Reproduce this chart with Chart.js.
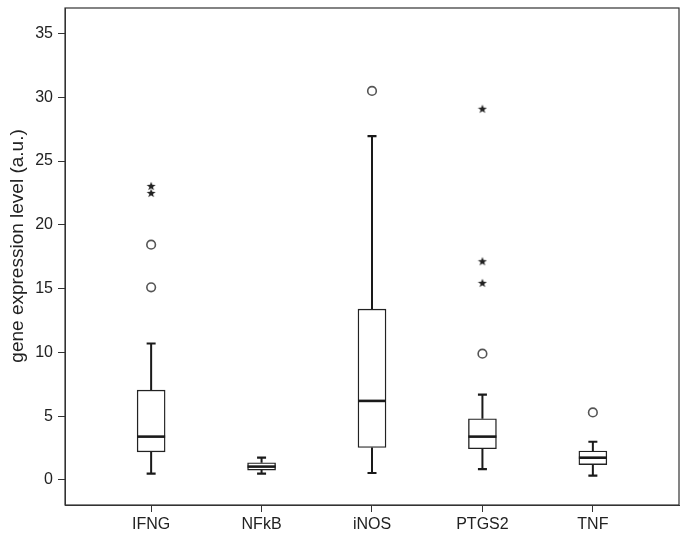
<!DOCTYPE html>
<html>
<head>
<meta charset="utf-8">
<script src="https://cdn.jsdelivr.net/npm/chart.js@4.4.0/dist/chart.umd.min.js"></script>
<style>
  html, body { margin: 0; padding: 0; background: #fff; }
  canvas { display: block; }
</style>
</head>
<body>
<canvas id="box-chart" width="687" height="534"></canvas>
<script>
// Box plot values
const genes = ['IFNG', 'NFkB', 'iNOS', 'PTGS2', 'TNF'];
const whiskerLow = [0.5, 0.5, 0.55, 0.86, 0.35];
const q1 = [2.2, 0.78, 2.55, 2.45, 1.2];
const medians = [3.4, 1.05, 6.2, 3.4, 1.75];
const q3 = [7.05, 1.35, 13.4, 4.8, 2.27];
const whiskerHigh = [10.7, 1.75, 26.95, 6.7, 3.0];
// outliers (circles) and extreme values (stars)
const circleOutliers = [[15.1, 18.45], [], [30.5], [9.9], [5.3]];
const starOutliers = [[22.5, 23.05], [], [], [15.45, 17.15, 29.1], []];
const yTicks = [0, 5, 10, 15, 20, 25, 30, 35];

const positions = genes.map((g, i) => i + 1);
const FONT = "'Liberation Sans', Arial, sans-serif";

// small filled star used for the extreme values
function makeStar(size) {
  const c = document.createElement('canvas');
  c.width = size;
  c.height = size;
  const ctx = c.getContext('2d');
  const cx = size / 2, cy = size / 2 + 0.4;
  const outer = size / 2 - 0.3, inner = outer * 0.42;
  ctx.beginPath();
  for (let i = 0; i < 10; i++) {
    const r = i % 2 === 0 ? outer : inner;
    const a = -Math.PI / 2 + i * Math.PI / 5;
    ctx.lineTo(cx + r * Math.cos(a), cy + r * Math.sin(a));
  }
  ctx.closePath();
  ctx.fillStyle = '#222';
  ctx.fill();
  return c;
}

const circlePoints = [];
const starPoints = [];
genes.forEach((g, i) => {
  circleOutliers[i].forEach(v => circlePoints.push({ x: positions[i], y: v }));
  starOutliers[i].forEach(v => starPoints.push({ x: positions[i], y: v }));
});

// whiskers, caps and median lines
const boxLines = {
  id: 'boxLines',
  afterDatasetsDraw(chart) {
    const { ctx, scales: { x, y } } = chart;
    ctx.save();
    ctx.strokeStyle = '#1a1a1a';
    genes.forEach((g, i) => {
      const cx = x.getPixelForValue(positions[i]);
      const half = 14;
      const cap = 4.5;
      ctx.lineWidth = 2;
      ctx.beginPath();
      ctx.moveTo(cx, y.getPixelForValue(q3[i]));
      ctx.lineTo(cx, y.getPixelForValue(whiskerHigh[i]));
      ctx.moveTo(cx, y.getPixelForValue(q1[i]));
      ctx.lineTo(cx, y.getPixelForValue(whiskerLow[i]));
      ctx.stroke();
      ctx.lineWidth = 2.2;
      ctx.beginPath();
      ctx.moveTo(cx - cap, y.getPixelForValue(whiskerHigh[i]));
      ctx.lineTo(cx + cap, y.getPixelForValue(whiskerHigh[i]));
      ctx.moveTo(cx - cap, y.getPixelForValue(whiskerLow[i]));
      ctx.lineTo(cx + cap, y.getPixelForValue(whiskerLow[i]));
      ctx.stroke();
      ctx.lineWidth = 2.6;
      ctx.beginPath();
      ctx.moveTo(cx - half, y.getPixelForValue(medians[i]));
      ctx.lineTo(cx + half, y.getPixelForValue(medians[i]));
      ctx.stroke();
    });
    ctx.restore();
  }
};

// box around the plot area
const frame = {
  id: 'frame',
  afterDraw(chart) {
    const { ctx, chartArea: a } = chart;
    ctx.save();
    ctx.strokeStyle = '#333';
    ctx.lineWidth = 1.2;
    ctx.strokeRect(a.left, a.top, a.right - a.left, a.bottom - a.top);
    ctx.restore();
  }
};

const ctx = document.getElementById('box-chart').getContext('2d');
new Chart(ctx, {
  type: 'bar',
  data: {
    datasets: [
      {
        type: 'bar',
        data: genes.map((g, i) => ({ x: positions[i], y: [q1[i], q3[i]] })),
        backgroundColor: '#fff',
        borderColor: '#222',
        borderWidth: 1.4,
        borderSkipped: false,
        barThickness: 28
      },
      {
        type: 'scatter',
        data: circlePoints,
        pointStyle: 'circle',
        pointRadius: 4.3,
        pointBorderWidth: 1.6,
        pointBorderColor: '#555',
        pointBackgroundColor: '#fff'
      },
      {
        type: 'scatter',
        data: starPoints,
        pointStyle: makeStar(10),
        pointRadius: 4
      }
    ]
  },
  options: {
    responsive: false,
    animation: false,
    layout: { padding: { top: 8, right: 8, left: 0, bottom: 0 } },
    plugins: {
      legend: { display: false },
      tooltip: { enabled: false }
    },
    scales: {
      x: {
        type: 'linear',
        min: 0.22,
        max: 5.78,
        offset: false,
        afterBuildTicks: scale => { scale.ticks = positions.map(v => ({ value: v })); },
        afterFit: scale => { scale.height = 29; },
        grid: { display: true, drawOnChartArea: false, offset: false, tickLength: 7, color: '#333' },
        border: { display: true, color: '#333' },
        ticks: {
          autoSkip: false,
          maxRotation: 0,
          padding: 3,
          color: '#222',
          font: { family: FONT, size: 16 },
          callback: value => genes[value - 1]
        }
      },
      y: {
        min: -1.96,
        max: 37,
        afterBuildTicks: scale => { scale.ticks = yTicks.map(v => ({ value: v })); },
        afterFit: scale => {
          scale.width = 65;
          scale.paddingTop = 0;
          scale.paddingBottom = 0;
        },
        grid: { display: true, drawOnChartArea: false, tickLength: 7, color: '#333' },
        border: { display: true, color: '#333' },
        ticks: {
          padding: 5,
          color: '#222',
          font: { family: FONT, size: 16 }
        },
        title: {
          display: true,
          // leading spaces nudge the rotated title up, as in the figure
          text: '\u00a0\u00a0\u00a0\u00a0gene expression level (a.u.)',
          color: '#222',
          padding: { top: 6, bottom: 0 },
          font: { family: FONT, size: 19 }
        }
      }
    }
  },
  plugins: [boxLines, frame]
});
</script>
</body>
</html>
